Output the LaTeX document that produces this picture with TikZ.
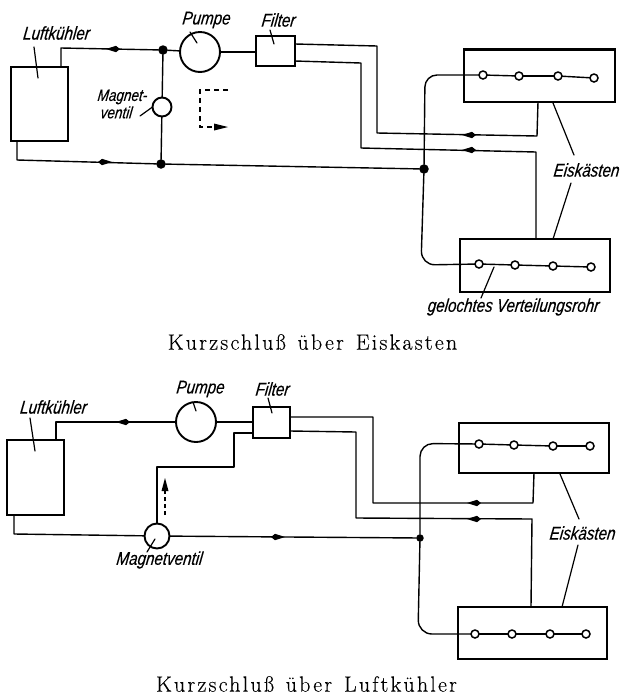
\documentclass[tikz,border=0pt]{standalone}
\usepackage{fontspec}
\newfontfamily\labfont[FakeSlant=0.12,FakeStretch=0.82,FakeBold=0.25]{Liberation Sans Italic}
\newfontfamily\capfont[LetterSpace=10,FakeBold=0.2]{Latin Modern Roman}
\usetikzlibrary{calc}
\tikzset{
  pipe/.style={line width=1.4pt,line join=round,line cap=round},
  thinlead/.style={line width=1.2pt,line cap=round},
  boxn/.style={draw,line width=2.1pt,minimum width=#1,inner sep=0pt,outer sep=0pt},
  wheel/.style={circle,draw,line width=1.9pt,fill=white,minimum size=#1,inner sep=0pt,outer sep=0pt},
  hole/.style={circle,draw,line width=1.5pt,fill=white,minimum size=8pt,inner sep=0pt,outer sep=0pt},
  dot/.style={circle,fill=black,minimum size=9.5pt,inner sep=0pt,outer sep=0pt},
  lab/.style={font=\labfont\fontsize{18.5pt}{15pt}\selectfont,inner sep=0pt,align=center},
  captext/.style={font=\capfont\fontsize{22pt}{24pt}\selectfont,inner sep=0pt},
  tipfill/.style={fill=black,draw=none}
}
\newcommand{\tipL}[2]{\fill[tipfill] (#1-7,#2) -- (#1+3,#2-3.2) -- (#1+7,#2) -- (#1+3,#2+3.2) -- cycle;}
\newcommand{\tipR}[2]{\fill[tipfill] (#1+7,#2) -- (#1-3,#2-3.2) -- (#1-7,#2) -- (#1-3,#2+3.2) -- cycle;}
\begin{document}
\begin{tikzpicture}[x=1pt,y=-1pt]
\useasboundingbox (0,0) rectangle (622,697);
% ---- top diagram ----
\node[boxn=57pt,minimum height=74pt] (kA) at (39.5,104) {};
\node[wheel=40pt] (pA) at (200,52) {};
\node[boxn=39pt,minimum height=30pt] (fA) at (275.5,51) {};
\node[wheel=19pt] (vA) at (162,107) {};
\node[dot] (j1) at (163,50) {};
\node[dot] (j2) at (161,164) {};
\node[dot] (j3) at (424,169) {};
\node[boxn=151pt,minimum height=52.5pt] (e1) at (539.5,75.75) {};
\node[boxn=150pt,minimum height=53pt] (e2) at (535,265.5) {};
\foreach \n/\x/\y in {a1/483/75,a2/519/76,a3/558/76,a4/594/78,b1/479/264,b2/515/265,b3/553/266,b4/591/267}
  \node[hole] (\n) at (\x,\y) {};
\coordinate (kAo) at (61,67);
\coordinate (kAi) at (17,141);
\coordinate (fAa) at (295,44);
\coordinate (fAb) at (295,61);
\coordinate (e1o) at (538,102);
\coordinate (e2o) at (536,239);
\draw[pipe] (kAo) -- (61,48) -- (j1);
\draw[pipe] (j1) -- (pA);
\draw[pipe] (pA) -- (pA-|fA.west);
\draw[pipe] (j1) -- (vA);
\draw[pipe] (vA) -- (j2);
\draw[pipe] (kAi) -- (17,160) -- (j2);
\draw[pipe] (j2) -- (j3);
\draw[pipe,rounded corners=12pt] (j3) -- (425,75) -- (a1);
\draw[pipe,rounded corners=14pt] (j3) -- (421,265) -- (b1);
\draw[pipe] (a1) -- (a2); \draw[pipe] (a2) -- (a3); \draw[pipe] (a3) -- (a4);
\draw[pipe] (b1) -- (b2); \draw[pipe] (b2) -- (b3); \draw[pipe] (b3) -- (b4);
\draw[pipe] (fAa) -- (377,46) -- (377,133) -- (537,136) -- (e1o);
\draw[pipe] (fAb) -- (361,63) -- (361,148) -- (536,152) -- (e2o);
\tipL{113}{49}\tipR{105}{162}\tipL{469}{135}\tipL{469}{150}
\draw[line width=1.3pt,dash pattern=on 5pt off 4pt] (228,90) -- (200,90) -- (200,127) -- (216,127);
\fill[tipfill] (228,127) -- (214,123.5) -- (214,130.5) -- cycle;
\node[lab] (t1) at (56,33) {Luftkühler};
\node[lab] (t2) at (206,20) {Pumpe};
\node[lab] (t3) at (278,20) {Filter};
\node[lab,font=\labfont\fontsize{16.5pt}{15pt}\selectfont,align=left] (t4) at (122,104) {Magnet-\\[1pt]\hspace*{3pt}ventil};
\node[lab] (t5) at (586,170) {Eiskästen};
\node[lab] (t6) at (513,307) {gelochtes Verteilungsrohr};
\draw[thinlead] (34,47) -- (38,78);
\draw[thinlead] (190,32) -- (197,43);
\draw[thinlead] (270,30) -- (274,44);
\draw[thinlead] (140,116) -- (vA.west);
\draw[thinlead] (553,103) -- (574,155);
\draw[thinlead] (571,183) -- (553,239);
\draw[thinlead] (494,267) -- (481,298);
\node[captext] (c1) at (312.5,342) {Kurzschluß\hspace{3pt} über\hspace{3pt} Eiskasten};
% ---- bottom diagram ----
\node[boxn=57pt,minimum height=75pt] (kB) at (35.5,477.5) {};
\node[wheel=40pt] (pB) at (196,422) {};
\node[boxn=37pt,minimum height=31pt] (fB) at (271.5,422.5) {};
\node[wheel=25pt] (vB) at (157,536) {};
\node[dot,minimum size=7.5pt] (j4) at (420,538) {};
\node[boxn=150pt,minimum height=50pt] (e3) at (534,448) {};
\node[boxn=149pt,minimum height=52pt] (e4) at (532.5,633) {};
\foreach \n/\x/\y in {c1/479/444,c2/514/445,c3/553/446,c4/590/446,d1/475/634,d2/512/634,d3/550/634,d4/586/634}
  \node[hole] (h\n) at (\x,\y) {};
\coordinate (kBo) at (56,440);
\coordinate (kBi) at (14,515);
\coordinate (fBa) at (290,417);
\coordinate (fBb) at (290,431);
\coordinate (fBc) at (253,433);
\coordinate (e3o) at (534,473);
\coordinate (e4o) at (531,607);
\draw[pipe] (kBo) -- (56,422) -- (pB);
\draw[pipe] (pB) -- (pB-|fB.west);
\draw[pipe] (fBc) -- (234,433) -- (234,467) -- (157,467) -- (vB);
\draw[pipe] (kBi) -- (14,534) -- (vB);
\draw[pipe] (vB) -- (j4);
\draw[pipe,rounded corners=13pt] (j4) -- (420,443.5) -- (hc1);
\draw[pipe,rounded corners=14pt] (j4) -- (418,634) -- (hd1);
\draw[pipe] (hc1) -- (hc2); \draw[pipe] (hc2) -- (hc3); \draw[pipe] (hc3) -- (hc4);
\draw[pipe] (hd1) -- (hd2); \draw[pipe] (hd2) -- (hd3); \draw[pipe] (hd3) -- (hd4);
\draw[pipe] (fBa) -- (373,417) -- (373,503) -- (533,503) -- (e3o);
\draw[pipe] (fBb) -- (356,432) -- (356,518) -- (532,519) -- (e4o);
\tipL{123}{422}\tipR{278}{537}\tipL{474}{503}\tipL{474}{519}
\draw[line width=1.5pt,dash pattern=on 4pt off 3pt] (165,515) -- (165,490);
\fill[tipfill] (165,478) -- (161.5,491) -- (168.5,491) -- cycle;
\node[lab] (u1) at (53,407) {Luftkühler};
\node[lab] (u2) at (200,389) {Pumpe};
\node[lab] (u3) at (272,389) {Filter};
\node[lab] (u4) at (159,560) {Magnetventil};
\node[lab,anchor=west] (u5) at (549,533) {Eiskästen};
\draw[thinlead] (30,418) -- (35,451);
\draw[thinlead] (193,402) -- (196,411);
\draw[thinlead] (268,398) -- (272,413);
\draw[thinlead] (147,552) -- (155,539);
\draw[thinlead] (560,474) -- (579,519);
\draw[thinlead] (578,545) -- (562,607);
\node[captext] (c2) at (306.5,684) {Kurzschluß\hspace{3pt} über\hspace{3pt} Luftkühler};
\end{tikzpicture}
\end{document}
